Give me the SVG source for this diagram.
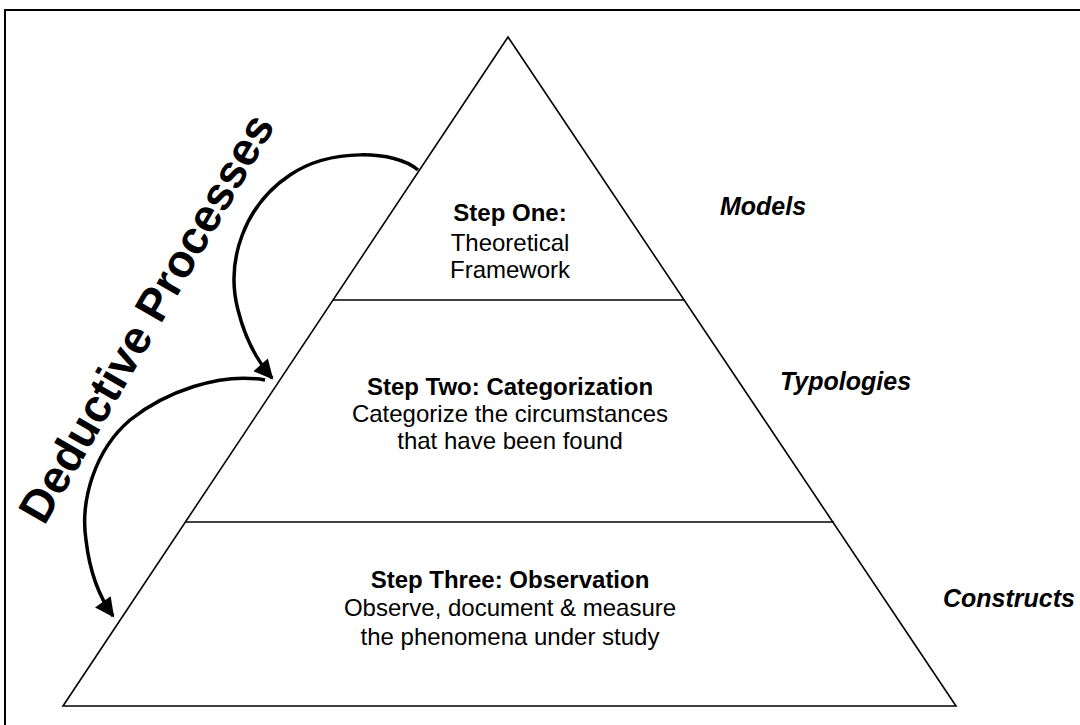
<svg xmlns="http://www.w3.org/2000/svg" width="1080" height="725" viewBox="0 0 1080 725">
  <style>
    .frame { fill: none; stroke: #000; stroke-width: 2; }
    .edge { fill: none; stroke: #000; stroke-width: 1.6; }
    .arc { fill: none; stroke: #000; stroke-width: 3.5; }
    .step { font-family: "Liberation Sans", Arial, sans-serif; font-size: 24px; fill: #000; text-anchor: middle; }
    .step .hd { font-weight: bold; }
    .tier { font-family: "Liberation Sans", Arial, sans-serif; font-size: 25px; font-weight: bold; font-style: italic; fill: #000; }
    .side { font-family: "Liberation Sans", Arial, sans-serif; font-size: 46px; font-weight: bold; fill: #000; text-anchor: middle; }
  </style>
  <defs>
    <marker id="head" viewBox="0 0 10 10" refX="9" refY="5" markerWidth="7" markerHeight="5.5" markerUnits="strokeWidth" orient="auto">
      <path d="M0,0 L10,5 L0,10 z" fill="#000"/>
    </marker>
  </defs>

  <rect class="frame" x="5" y="10" width="1100" height="800"/>

  <!-- pyramid outline and tier dividers -->
  <g id="pyramid">
    <polygon class="edge" points="508,37 956,706 63,706"/>
    <line class="edge" x1="333" y1="300" x2="684" y2="300"/>
    <line class="edge" x1="185" y1="522" x2="834" y2="522"/>
  </g>

  <g id="step-one" class="step">
    <text class="hd" x="510" y="221">Step One:</text>
    <text x="510" y="251">Theoretical</text>
    <text x="510" y="278">Framework</text>
  </g>

  <g id="step-two" class="step">
    <text class="hd" x="510" y="395">Step Two: Categorization</text>
    <text x="510" y="422">Categorize the circumstances</text>
    <text x="510" y="449">that have been found</text>
  </g>

  <g id="step-three" class="step">
    <text class="hd" x="510" y="588">Step Three: Observation</text>
    <text x="510" y="616">Observe, document &amp; measure</text>
    <text x="510" y="645">the phenomena under study</text>
  </g>

  <g id="tier-labels" class="tier">
    <text id="models" x="720" y="215">Models</text>
    <text id="typologies" x="780" y="390">Typologies</text>
    <text id="constructs" x="943" y="607">Constructs</text>
  </g>

  <g id="deductive-label">
    <text class="side" transform="translate(160,326) rotate(-60)">Deductive Processes</text>
  </g>

  <g id="connectors">
    <path class="arc" marker-end="url(#head)" d="M418,170 C395,150 330,148 290,175 C245,205 225,260 238,310 C246,342 258,362 272,378"/>
    <path class="arc" marker-end="url(#head)" d="M265,380 C220,372 165,392 130,420 C95,450 80,500 86,540 C90,575 100,598 113,616"/>
  </g>
</svg>
